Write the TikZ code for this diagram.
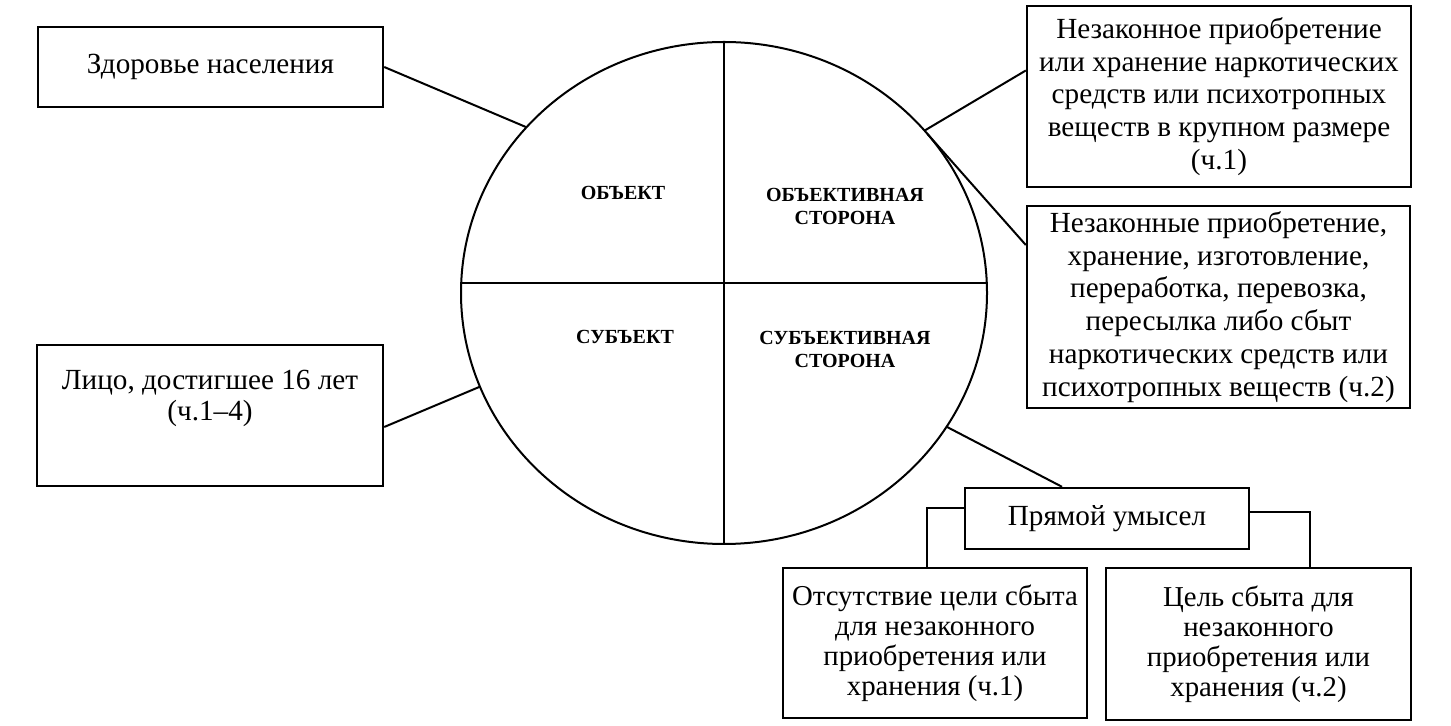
\documentclass[tikz,border=0pt]{standalone}
\usepackage{fontspec}
\setmainfont{Liberation Serif}
\usetikzlibrary{shapes.geometric,calc}
\tikzset{
  box/.style={draw, line width=1.2pt, align=center, inner sep=2pt, font=\fontsize{14.6}{16.4}\selectfont},
  txt/.style={align=center, inner sep=0pt, font=\fontsize{14.6}{15.5}\selectfont},
  quad/.style={align=center, inner sep=0pt, font=\bfseries\fontsize{10}{11.5}\selectfont},
  ln/.style={line width=1pt}
}

\begin{document}
\begin{tikzpicture}[x=0.5pt, y=-0.5pt]
\useasboundingbox (0,0) rectangle (1451,726);
% circle with the four elements
\node[draw, ellipse, line width=1pt, inner sep=0pt, outer sep=0pt, minimum width=263pt, minimum height=251pt] (circ) at (724,293) {};
\draw[ln] (circ.north) -- (circ.south);
\draw[ln] ([yshift=5pt]circ.west) -- ([yshift=5pt]circ.east);
\node[quad] (obj) at (623,193) {ОБЪЕКТ};
\node[quad] (objside) at (845,206) {ОБЪЕКТИВНАЯ\\СТОРОНА};
\node[quad] (subj) at (625,337) {СУБЪЕКТ};
\node[quad] (subjside) at (845,349) {СУБЪЕКТИВНАЯ\\СТОРОНА};
% left boxes
\node[box, minimum width=172.5pt, minimum height=40pt] (health) at (210.5,67) {Здоровье населения};
\node[box, minimum width=173pt, minimum height=70.5pt] (person) at (210,415.5) {};
\node[txt] (persontext) at (210,398) {Лицо, достигшее 16 лет\\(ч.1–4)};
% right boxes
\node[box, minimum width=192pt, minimum height=90.5pt] (acts1) at (1219,96.5) {Незаконное приобретение\\или хранение наркотических\\средств или психотропных\\веществ в крупном размере\\(ч.1)};
\node[box, minimum width=191.5pt, minimum height=101pt] (acts2) at (1218.5,307) {Незаконные приобретение,\\хранение, изготовление,\\переработка, перевозка,\\пересылка либо сбыт\\наркотических средств или\\психотропных веществ (ч.2)};
% intent
\node[box, minimum width=142pt, minimum height=30.5pt] (intent) at (1107,518.5) {Прямой умысел};
\node[box, minimum width=152pt, minimum height=75pt, font=\fontsize{14.4}{15}\selectfont] (noaim) at (935,643) {Отсутствие цели сбыта\\для незаконного\\приобретения или\\хранения (ч.1)};
\node[box, minimum width=152.5pt, minimum height=76pt, font=\fontsize{14.4}{15}\selectfont] (aim) at (1258.5,644) {Цель сбыта для\\незаконного\\приобретения или\\хранения (ч.2)};
% connectors
\draw[ln] (health.east) -- (circ.140);
\draw[ln] ([yshift=-5.75pt]person.east) -- (circ.201);
\draw[ln] (circ.39.5) -- ([yshift=13pt]acts1.west);
\draw[ln] (circ.38.5) -- ([yshift=31pt]acts2.west);
\draw[ln] (circ.-31) -- ([xshift=-22.5pt]intent.north);
\draw[ln] ([yshift=5pt]intent.west) -| ([xshift=-4pt]noaim.north);
\draw[ln] ([yshift=3pt]intent.east) -| ([xshift=25.75pt]aim.north);
\end{tikzpicture}
\end{document}
